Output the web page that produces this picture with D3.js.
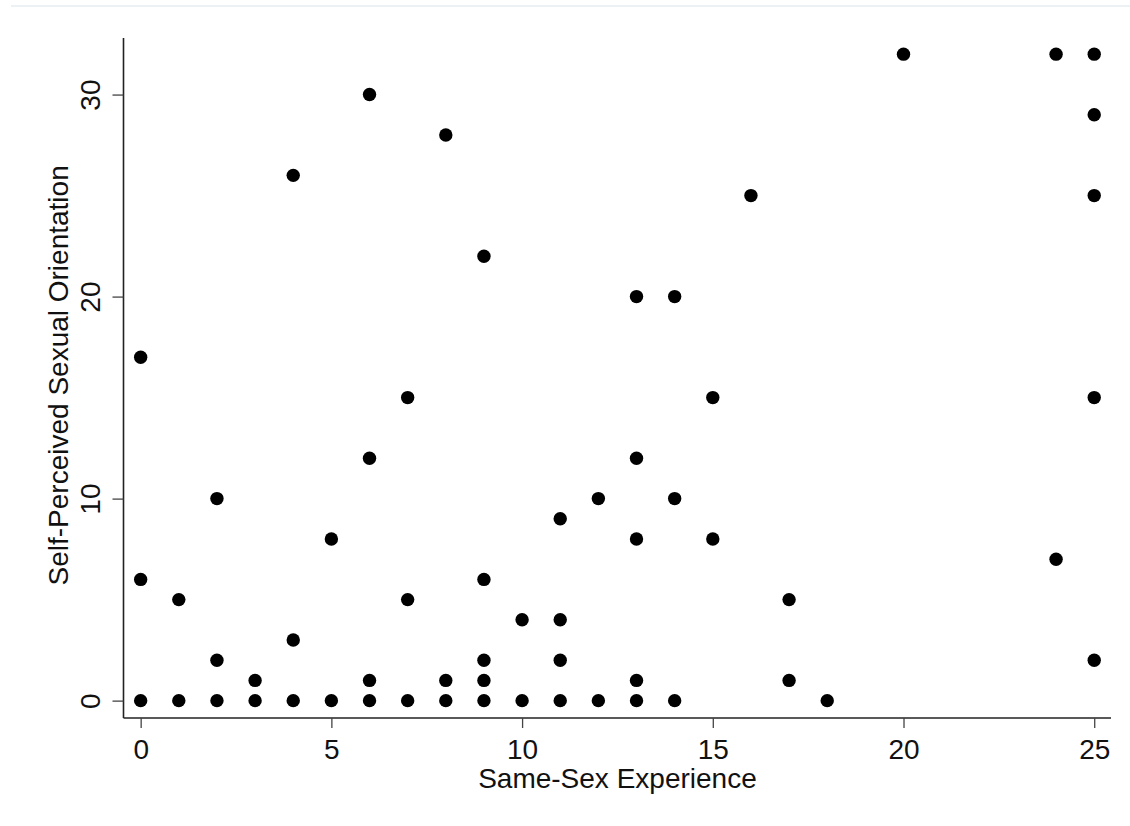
<!DOCTYPE html>
<html>
<head>
<meta charset="utf-8">
<script src="https://cdn.jsdelivr.net/npm/d3@7"></script>
<style>
  body { margin: 0; background: #fff; }
  svg text { font-family: "Liberation Sans", Arial, sans-serif; fill: #111; }
</style>
</head>
<body>
<div id="vis"></div>
<script>
// same-sex experience (x) vs self-perceived orientation (y)
const experience = [0, 0, 0, 1, 1, 2, 2, 2, 3, 3, 4, 4, 4, 5, 5, 6, 6, 6, 6, 7, 7, 7,
  8, 8, 8, 9, 9, 9, 9, 9, 10, 10, 11, 11, 11, 11, 12, 12, 13, 13, 13, 13, 13,
  14, 14, 14, 15, 15, 16, 17, 17, 18, 20, 24, 24, 25, 25, 25, 25, 25];
const orientation = [0, 6, 17, 0, 5, 0, 2, 10, 0, 1, 0, 3, 26, 0, 8, 0, 1, 12, 30, 0, 5, 15,
  0, 1, 28, 0, 1, 2, 6, 22, 0, 4, 0, 2, 4, 9, 0, 10, 0, 1, 8, 12, 20,
  0, 10, 20, 8, 15, 25, 1, 5, 0, 32, 7, 32, 2, 15, 25, 29, 32];
const xTicks = [0, 5, 10, 15, 20, 25];
const yTicks = [0, 10, 20, 30];

const width = 1130, height = 826;
const margin = { top: 38, right: 19, bottom: 108, left: 123.5 };
const fontSize = "28px";

const svg = d3.select("#vis").append("svg")
  .attr("width", width)
  .attr("height", height);

// faint frame line at the top
svg.append("line")
  .attr("x1", 11).attr("x2", width)
  .attr("y1", 6).attr("y2", 6)
  .attr("stroke", "#e6edf1").attr("stroke-width", 1.5);

const x = d3.scaleLinear()
  .domain([-0.45, 25.44])
  .range([margin.left, width - margin.right]);
const y = d3.scaleLinear()
  .domain([-0.86, 32.8])
  .range([height - margin.bottom, margin.top]);

////////// axes //////////

const xAxis = svg.append("g")
  .attr("transform", "translate(0," + (height - margin.bottom) + ")")
  .call(d3.axisBottom(x).tickValues(xTicks).tickSize(10).tickPadding(11).tickSizeOuter(0));
const yAxis = svg.append("g")
  .attr("transform", "translate(" + margin.left + ",0)")
  .call(d3.axisLeft(y).tickValues(yTicks).tickSize(11).tickSizeOuter(0));

[xAxis, yAxis].forEach(function (g) {
  g.select(".domain").attr("stroke", "#222").attr("stroke-width", 1.6);
  g.selectAll(".tick line").attr("stroke", "#444").attr("stroke-width", 1.3);
  g.selectAll(".tick text").style("font-size", fontSize).attr("fill", "#111");
});
xAxis.select(".domain").attr("d", "M" + margin.left + ",0H" + (width - margin.right));
yAxis.select(".domain").attr("d", "M0," + margin.top + "V" + (height - margin.bottom));

// y tick labels are rotated like the original
yAxis.selectAll(".tick text")
  .attr("x", null).attr("dy", null)
  .attr("text-anchor", "middle")
  .attr("transform", "translate(-23.5,0) rotate(-90)");

////////// labels //////////

svg.append("text")
  .attr("x", x(12.5)).attr("y", 788)
  .attr("text-anchor", "middle")
  .style("font-size", fontSize)
  .text("Same-Sex Experience");

svg.append("text")
  .attr("transform", "translate(68," + y(16.1) + ") rotate(-90)")
  .attr("text-anchor", "middle")
  .style("font-size", fontSize)
  .text("Self-Perceived Sexual Orientation");

////////// points //////////

svg.append("g")
  .selectAll("circle")
  .data(d3.range(experience.length))
  .enter()
  .append("circle")
  .attr("cx", function (i) { return x(experience[i]); })
  .attr("cy", function (i) { return y(orientation[i]); })
  .attr("r", 6.7)
  .attr("fill", "#000");
</script>
</body>
</html>
